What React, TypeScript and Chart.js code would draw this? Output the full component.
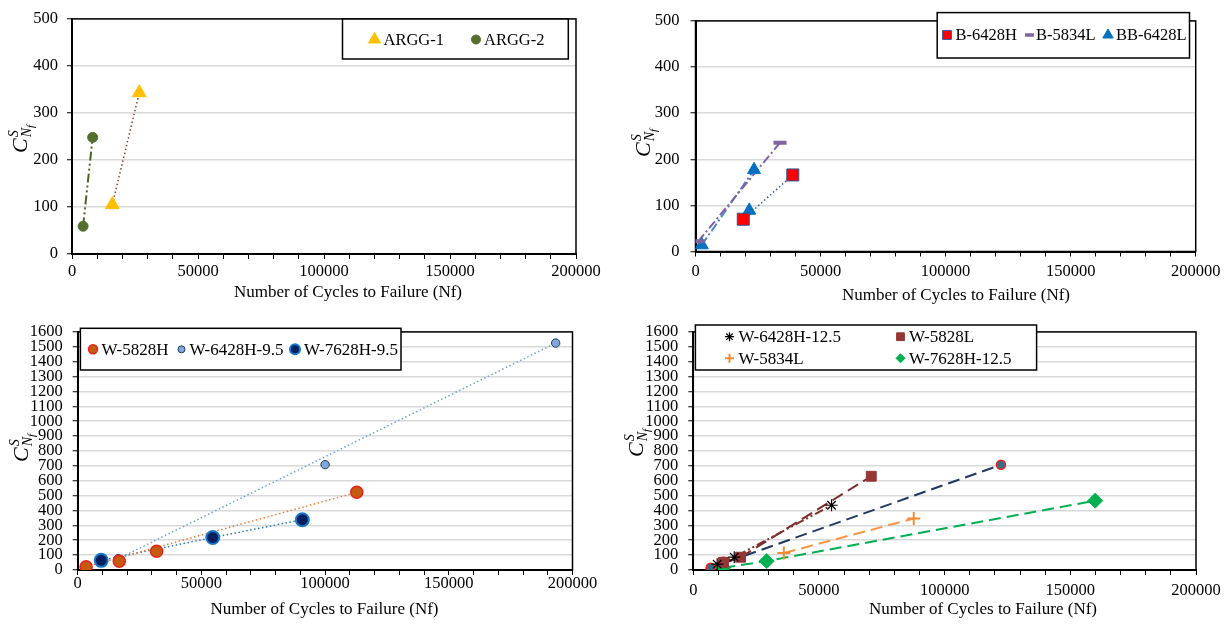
import { useEffect, useRef } from 'react';
import { Chart, registerables } from 'chart.js';
import { drawPoint } from 'chart.js/helpers';

Chart.register(...registerables);

// ---------------- data: cycles to failure (Nf) and C^S at Nf ----------------
const ARGG1_NF = [16000, 26700];
const ARGG1_C = [105, 343];
const ARGG2_NF = [4400, 8200];
const ARGG2_C = [59, 248];

const B6428H_NF = [19100, 38900];
const B6428H_C = [70, 166];
const B5834L_NF = [1100, 33800];
const B5834L_C = [22, 236];
const BB6428L_NF = [2500, 21500, 23400];
const BB6428L_C = [14, 89, 177];

const W5828H_NF = [3400, 16800, 31900, 112800];
const W5828H_C = [22, 59, 126, 522];
const W6428H95_NF = [16400, 100000, 193200];
const W6428H95_C = [76, 708, 1525];
const W7628H95_NF = [9500, 54600, 90800];
const W7628H95_C = [65, 218, 338];

const W6428H125_NF = [9500, 16300, 55000];
const W6428H125_C = [39, 86, 435];
const W5828L_NF = [12000, 18800, 70800];
const W5828L_C = [52, 86, 630];
const W5834L_NF = [36000, 87700];
const W5834L_C = [114, 346];
const W7628H125_NF = [11900, 29200, 159900];
const W7628H125_C = [15, 60, 466];
const EXTRA_NF = [6900, 12000, 122400];
const EXTRA_C = [15, 55, 707];

const X_MAX = 200000;
const X_STEP = 10000;
const X_LABEL_STEP = 50000;
const Y_MAX_TOP = 500;
const Y_MAX_BOTTOM = 1600;
const Y_STEP = 100;

const X_TITLE = 'Number of Cycles to Failure (Nf)';
const SERIF = '"Liberation Serif", "Times New Roman", serif';

// line dash patterns
const DOT = [1.5, 2.5];
const DASH_DOT = [9, 3, 2, 3];
const DASH_DOT_DOT = [9, 3, 2, 3, 2, 3];
const DASH = [12, 6];

type Series = {
  label: string;
  xs: number[];
  ys: number[];
  marker: string;
  radius: number;
  fill: string;
  edge: string;
  edgeWidth: number;
  paths: number[][];
  lineColor: string;
  lineWidth: number;
  dash: number[];
};

type LegendItem = { s: number; mx: number; tx: number; y: number; r: number };

type Panel = {
  pos: { left: number; top: number; width: number; height: number };
  area: { left: number; top: number; right: number; bottom: number };
  yMax: number;
  series: Series[];
  xLabelPad: number;
  yLabelPad: number;
  xTitle: { x: number; y: number };
  yTitle: { x: number; y: number };
  legend: { box: [number, number, number, number]; font: number; items: LegendItem[] };
};

const panels: Panel[] = [
  {
    pos: { left: 0, top: 0, width: 612, height: 312 },
    area: { left: 72, top: 12.3, right: 576, bottom: 254 },
    yMax: Y_MAX_TOP,
    xLabelPad: 3,
    yLabelPad: 9,
    xTitle: { x: 348, y: 293 },
    yTitle: { x: 19.5, y: 139 },
    series: [
      { label: 'ARGG-1', xs: ARGG1_NF, ys: ARGG1_C, marker: 'triangle', radius: 8, fill: '#FFC000', edge: '#FFC000', edgeWidth: 1, paths: [[0, 1]], lineColor: '#8B3A3A', lineWidth: 1.5, dash: DOT },
      { label: 'ARGG-2', xs: ARGG2_NF, ys: ARGG2_C, marker: 'circle', radius: 5, fill: '#55702E', edge: '#55702E', edgeWidth: 1, paths: [[0, 1]], lineColor: '#4F6228', lineWidth: 2, dash: DASH_DOT_DOT },
    ],
    legend: {
      box: [342.5, 19, 568.3, 59],
      font: 16.5,
      items: [
        { s: 0, mx: 374.5, tx: 383.5, y: 39.5, r: 7 },
        { s: 1, mx: 476, tx: 484, y: 39.5, r: 4.5 },
      ],
    },
  },
  {
    pos: { left: 615, top: 0, width: 616, height: 312 },
    area: { left: 80.5, top: 9.6, right: 580.7, bottom: 251.5 },
    yMax: Y_MAX_TOP,
    xLabelPad: 5.5,
    yLabelPad: 11,
    xTitle: { x: 341, y: 295.5 },
    yTitle: { x: 27.5, y: 143 },
    series: [
      { label: 'B-6428H', xs: B6428H_NF, ys: B6428H_C, marker: 'rect', radius: 8.5, fill: '#FF0000', edge: '#2F5597', edgeWidth: 1, paths: [[0, 1]], lineColor: '#2F5597', lineWidth: 1.5, dash: DOT },
      { label: 'B-5834L', xs: B5834L_NF, ys: B5834L_C, marker: 'line', radius: 6.5, fill: '#8064A2', edge: '#8064A2', edgeWidth: 4, paths: [[0, 1]], lineColor: '#8064A2', lineWidth: 2, dash: DASH_DOT },
      { label: 'BB-6428L', xs: BB6428L_NF, ys: BB6428L_C, marker: 'triangle', radius: 7.5, fill: '#0070C0', edge: '#0070C0', edgeWidth: 1, paths: [[0, 2]], lineColor: '#4A86C8', lineWidth: 2, dash: DASH_DOT },
    ],
    legend: {
      box: [322.2, 12.6, 574.5, 58],
      font: 16.5,
      items: [
        { s: 0, mx: 332, tx: 340.5, y: 35, r: 6.2 },
        { s: 1, mx: 414.5, tx: 421, y: 35, r: 4.5 },
        { s: 2, mx: 493, tx: 501, y: 35, r: 6 },
      ],
    },
  },
  {
    pos: { left: 0, top: 312, width: 612, height: 312 },
    area: { left: 77.7, top: 13.3, right: 572.5, bottom: 258 },
    yMax: Y_MAX_BOTTOM,
    xLabelPad: -1,
    yLabelPad: 10,
    xTitle: { x: 324.5, y: 298 },
    yTitle: { x: 21, y: 136 },
    series: [
      { label: 'W-5828H', xs: W5828H_NF, ys: W5828H_C, marker: 'circle', radius: 6, fill: '#C55A11', edge: '#E8211B', edgeWidth: 1.5, paths: [[0, 3]], lineColor: '#ED7D31', lineWidth: 1.5, dash: DOT },
      { label: 'W-6428H-9.5', xs: W6428H95_NF, ys: W6428H95_C, marker: 'circle', radius: 4.2, fill: '#7FA7DA', edge: '#1F3864', edgeWidth: 1, paths: [[0, 2]], lineColor: '#6FA0DC', lineWidth: 1.5, dash: DOT },
      { label: 'W-7628H-9.5', xs: W7628H95_NF, ys: W7628H95_C, marker: 'circle', radius: 6.5, fill: '#002060', edge: '#1577C8', edgeWidth: 2, paths: [[0, 1, 2]], lineColor: '#2E75B6', lineWidth: 1.5, dash: DOT },
    ],
    legend: {
      box: [80.4, 16.3, 401, 58],
      font: 17,
      items: [
        { s: 0, mx: 93, tx: 101.5, y: 37.3, r: 4.5 },
        { s: 1, mx: 181.5, tx: 189.5, y: 37.3, r: 3.5 },
        { s: 2, mx: 295, tx: 304, y: 37.3, r: 5 },
      ],
    },
  },
  {
    pos: { left: 615, top: 312, width: 616, height: 312 },
    area: { left: 78.3, top: 10.5, right: 581, bottom: 258 },
    yMax: Y_MAX_BOTTOM,
    xLabelPad: 6,
    yLabelPad: 10,
    xTitle: { x: 368, y: 298 },
    yTitle: { x: 20.6, y: 131 },
    series: [
      { label: 'W-6428H-12.5', xs: W6428H125_NF, ys: W6428H125_C, marker: 'star', radius: 6, fill: '#000000', edge: '#000000', edgeWidth: 1.2, paths: [[0, 1, 2]], lineColor: '#7F2F2F', lineWidth: 2, dash: DASH_DOT_DOT },
      { label: 'W-5828L', xs: W5828L_NF, ys: W5828L_C, marker: 'rect', radius: 7, fill: '#953735', edge: '#953735', edgeWidth: 1, paths: [[0, 1, 2]], lineColor: '#7B2C2C', lineWidth: 2, dash: DASH },
      { label: 'W-5834L', xs: W5834L_NF, ys: W5834L_C, marker: 'cross', radius: 6.5, fill: '#F79646', edge: '#F58A32', edgeWidth: 2, paths: [[0, 1]], lineColor: '#F79646', lineWidth: 2, dash: DASH },
      { label: 'W-7628H-12.5', xs: W7628H125_NF, ys: W7628H125_C, marker: 'rectRot', radius: 7.5, fill: '#00B050', edge: '#00B050', edgeWidth: 1, paths: [[0, 1, 2]], lineColor: '#00B050', lineWidth: 2, dash: DASH },
      { label: '', xs: EXTRA_NF, ys: EXTRA_C, marker: 'circle', radius: 4.5, fill: '#31708C', edge: '#FF1A1A', edgeWidth: 1.5, paths: [[0, 2]], lineColor: '#1F3864', lineWidth: 2, dash: DASH },
    ],
    legend: {
      box: [80.4, 13, 421.6, 58],
      font: 17,
      items: [
        { s: 0, mx: 114.5, tx: 123.5, y: 24.7, r: 4.5 },
        { s: 1, mx: 285.5, tx: 294, y: 24.7, r: 5.5 },
        { s: 2, mx: 114.5, tx: 123.5, y: 46.3, r: 4.5 },
        { s: 3, mx: 285.5, tx: 294, y: 46.3, r: 4.5 },
      ],
    },
  },
];

// C^S_{N_f}, rotated to read bottom-to-top
function drawYTitle(ctx: CanvasRenderingContext2D, cx: number, cy: number) {
  ctx.save();
  ctx.translate(cx, cy);
  ctx.rotate(-Math.PI / 2);
  ctx.fillStyle = '#000';
  ctx.textAlign = 'left';
  ctx.textBaseline = 'alphabetic';
  const big = `italic 22px ${SERIF}`;
  const small = `italic 14px ${SERIF}`;
  const tiny = `italic 11px ${SERIF}`;
  ctx.font = big;
  const wC = ctx.measureText('C').width;
  ctx.font = small;
  const wS = ctx.measureText('S').width;
  const wN = ctx.measureText('N').width;
  ctx.font = tiny;
  const wf = ctx.measureText('f').width;
  const total = wC + 1 + Math.max(wS, wN + wf);
  let x = -total / 2;
  const base = 7;
  ctx.font = big;
  ctx.fillText('C', x, base);
  x += wC + 1;
  ctx.font = small;
  ctx.fillText('S', x, base - 9);
  ctx.fillText('N', x, base + 4);
  ctx.font = tiny;
  ctx.fillText('f', x + wN, base + 7);
  ctx.restore();
}

function buildConfig(panel: Panel): any {
  const datasets: any[] = [];
  panel.series.forEach((s) => {
    datasets.push({
      label: s.label,
      data: s.xs.map((x, i) => ({ x, y: s.ys[i] })),
      showLine: false,
      pointStyle: s.marker,
      pointRadius: s.radius,
      pointHoverRadius: s.radius,
      pointBackgroundColor: s.fill,
      pointBorderColor: s.edge,
      pointBorderWidth: s.edgeWidth,
      order: 0,
    });
    s.paths.forEach((p) => {
      datasets.push({
        label: '',
        data: p.map((i) => ({ x: s.xs[i], y: s.ys[i] })),
        showLine: true,
        pointRadius: 0,
        pointHoverRadius: 0,
        borderColor: s.lineColor,
        borderWidth: s.lineWidth,
        borderDash: s.dash,
        fill: false,
        order: 1,
      });
    });
  });

  const decor = {
    id: 'decor',
    beforeDatasetsDraw(chart: any) {
      const { ctx, chartArea: a } = chart;
      ctx.save();
      ctx.strokeStyle = '#000';
      ctx.lineWidth = 1.5;
      ctx.strokeRect(a.left, a.top, a.right - a.left, a.bottom - a.top);
      ctx.restore();
    },
    afterDatasetsDraw(chart: any) {
      const ctx: CanvasRenderingContext2D = chart.ctx;
      const lg = panel.legend;
      const [l, t, r, b] = lg.box;
      ctx.save();
      ctx.fillStyle = '#fff';
      ctx.fillRect(l, t, r - l, b - t);
      ctx.strokeStyle = '#000';
      ctx.lineWidth = 1.5;
      ctx.strokeRect(l, t, r - l, b - t);
      lg.items.forEach((it) => {
        const s = panel.series[it.s];
        ctx.save();
        ctx.setLineDash([]);
        ctx.fillStyle = s.fill;
        ctx.strokeStyle = s.edge;
        const bw = s.marker === 'line' ? 3.5 : s.edgeWidth;
        ctx.lineWidth = bw;
        drawPoint(ctx, { pointStyle: s.marker as any, radius: it.r, borderWidth: bw, rotation: 0 }, it.mx, it.y);
        ctx.restore();
        ctx.fillStyle = '#000';
        ctx.font = `${lg.font}px ${SERIF}`;
        ctx.textAlign = 'left';
        ctx.textBaseline = 'middle';
        ctx.fillText(s.label, it.tx, it.y + 1);
      });
      ctx.restore();

      ctx.save();
      ctx.fillStyle = '#000';
      ctx.font = `17px ${SERIF}`;
      ctx.textAlign = 'center';
      ctx.textBaseline = 'middle';
      ctx.fillText(X_TITLE, panel.xTitle.x, panel.xTitle.y);
      ctx.restore();
      drawYTitle(ctx, panel.yTitle.x, panel.yTitle.y);
    },
  };

  const tickFont = { family: SERIF, size: 16.5 };
  const { pos, area } = panel;

  return {
    type: 'scatter',
    data: { datasets },
    plugins: [decor],
    options: {
      responsive: false,
      animation: false,
      events: [],
      layout: { padding: { left: 0, top: area.top, right: pos.width - area.right, bottom: 0 } },
      plugins: { legend: { display: false }, tooltip: { enabled: false }, title: { display: false } },
      scales: {
        x: {
          type: 'linear',
          min: 0,
          max: X_MAX,
          ticks: {
            stepSize: X_STEP,
            autoSkip: false,
            maxRotation: 0,
            minRotation: 0,
            color: '#000',
            font: tickFont,
            padding: panel.xLabelPad,
            callback: (v: number) => (v % X_LABEL_STEP === 0 ? String(v) : ''),
          },
          grid: { display: true, drawOnChartArea: false, drawTicks: true, tickLength: 5, tickColor: '#000', tickWidth: 1 },
          border: { display: true, color: '#000', width: 2 },
          afterFit: (s: any) => {
            s.height = pos.height - area.bottom;
          },
        },
        y: {
          type: 'linear',
          min: 0,
          max: panel.yMax,
          ticks: {
            stepSize: Y_STEP,
            autoSkip: false,
            color: '#000',
            font: tickFont,
            padding: panel.yLabelPad,
            callback: (v: number) => String(v),
          },
          grid: { display: true, color: '#D9D9D9', lineWidth: 1.5, drawTicks: true, tickLength: 5, tickColor: '#000', tickWidth: 1 },
          border: { display: true, color: '#000', width: 2 },
          afterFit: (s: any) => {
            s.width = area.left;
          },
        },
      },
    },
  };
}

function PanelChart({ panel }: { panel: Panel }) {
  const ref = useRef<HTMLCanvasElement>(null);
  useEffect(() => {
    if (!ref.current) return;
    const chart = new Chart(ref.current, buildConfig(panel));
    return () => chart.destroy();
  }, [panel]);
  const { pos } = panel;
  return (
    <div style={{ position: 'absolute', left: pos.left, top: pos.top, width: pos.width, height: pos.height }}>
      <canvas ref={ref} width={pos.width} height={pos.height} style={{ display: 'block' }} />
    </div>
  );
}

export default function App() {
  return (
    <div style={{ position: 'absolute', left: 0, top: 0, width: 1231, height: 624, background: '#fff' }}>
      {panels.map((p, i) => (
        <PanelChart key={i} panel={p} />
      ))}
    </div>
  );
}
